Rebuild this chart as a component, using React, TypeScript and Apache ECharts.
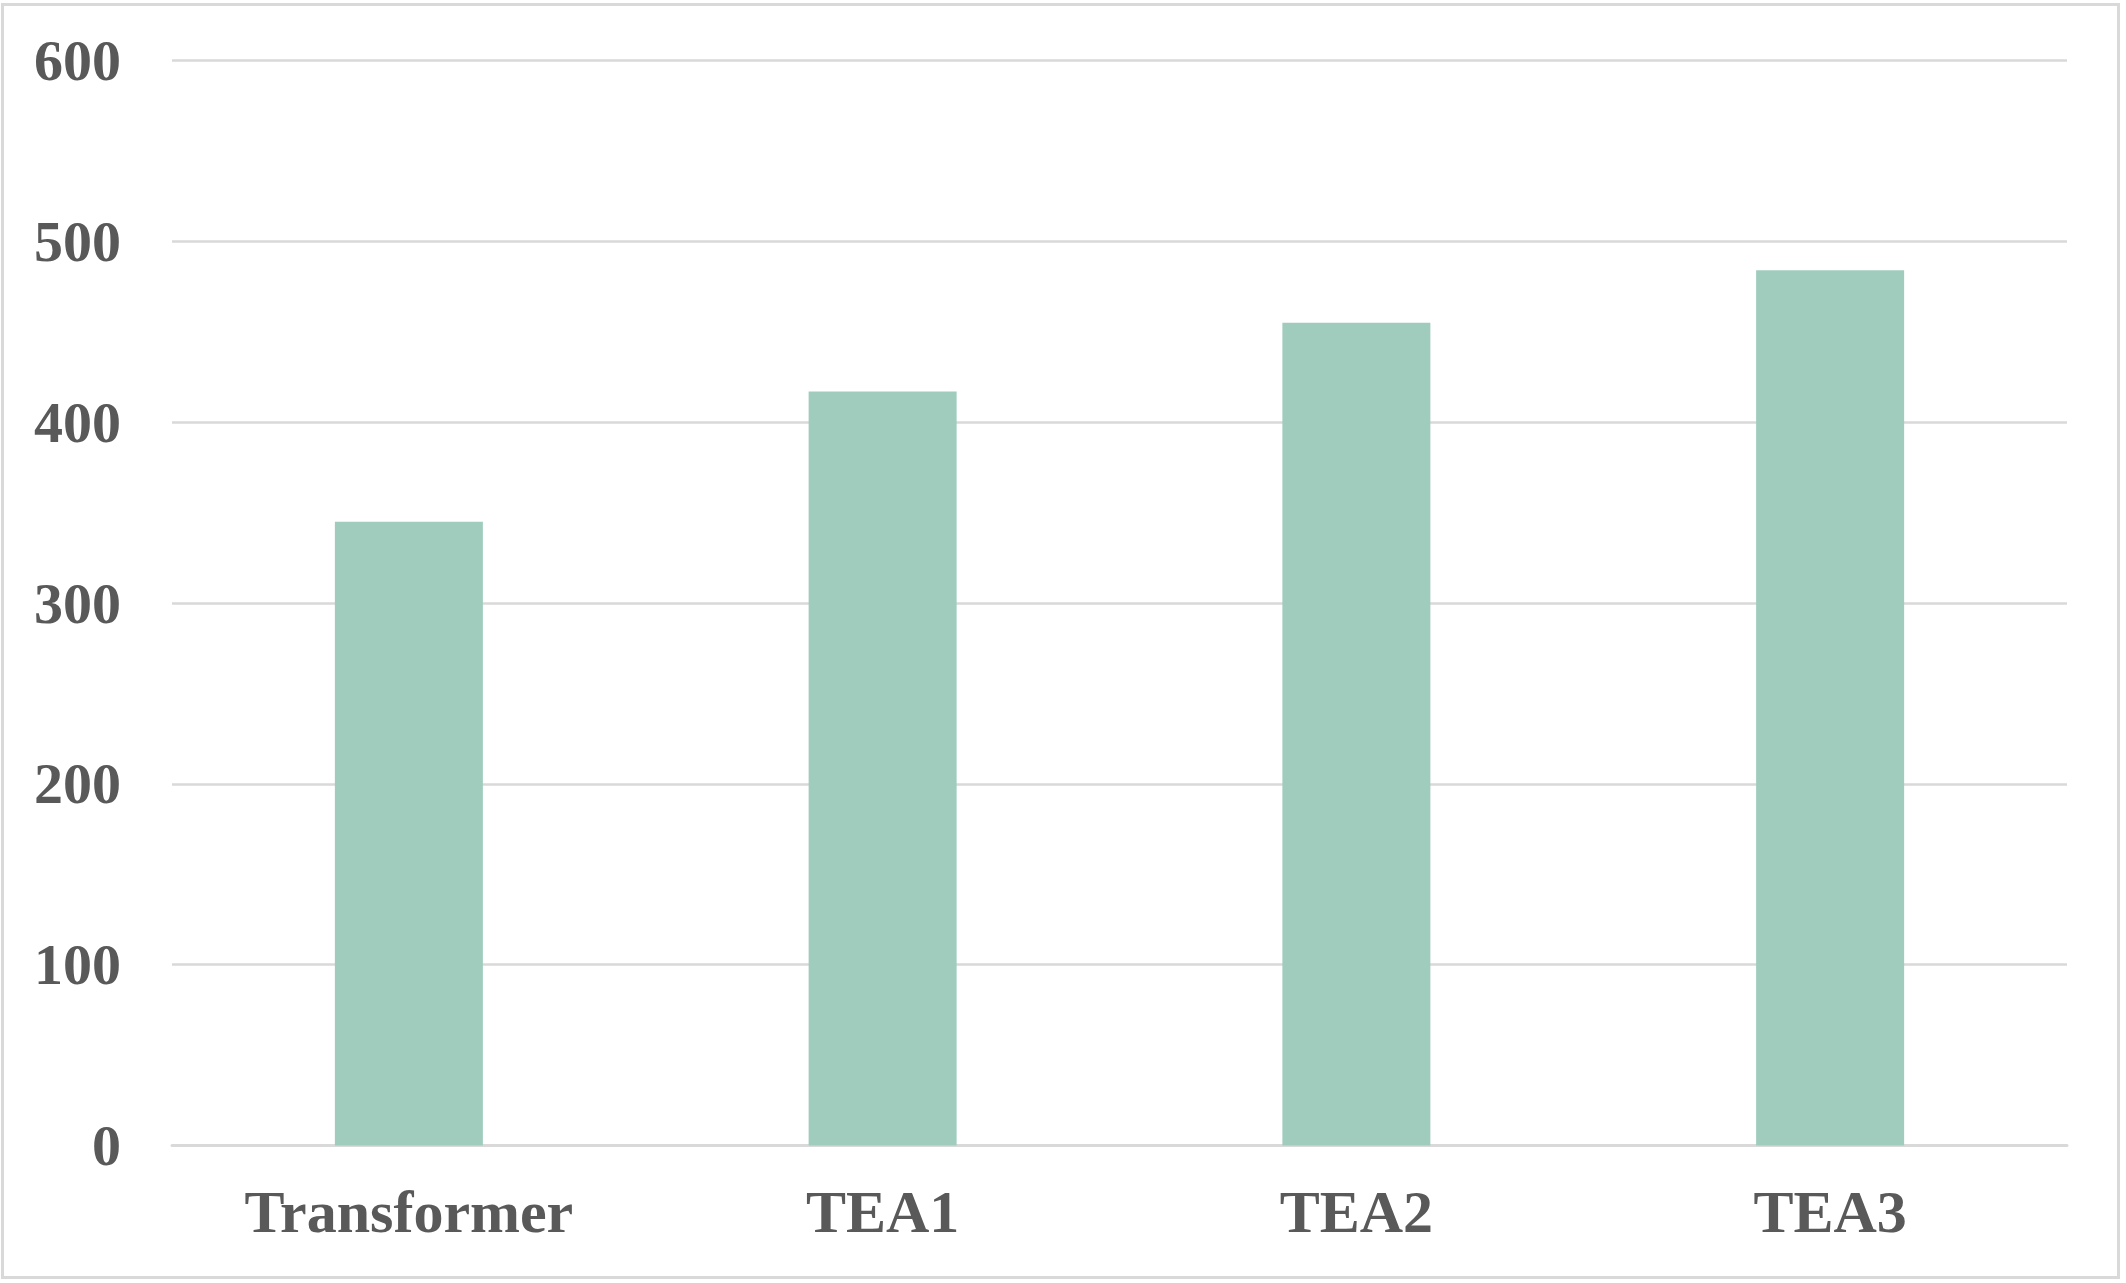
import React, { useEffect, useRef } from "react";
import * as echarts from "echarts";

const categories = ["Transformer", "TEA1", "TEA2", "TEA3"];
const values = [345, 417, 455, 484];
const yTicks = [0, 100, 200, 300, 400, 500, 600];

export default function App() {
  const ref = useRef<HTMLDivElement>(null);
  useEffect(() => {
    if (!ref.current) return;
    const chart = echarts.init(ref.current, undefined, { renderer: "svg" });
    const font = "'Liberation Serif', 'Times New Roman', serif";
    chart.setOption({
      animation: false,
      backgroundColor: "#ffffff",
      graphic: [
        {
          type: "rect",
          shape: { x: 2.5, y: 4.5, width: 2116, height: 1273 },
          style: { fill: "none", stroke: "#d9d9d9", lineWidth: 3 },
          silent: true,
        },
      ],
      grid: { left: 172, right: 59, top: 60.5, bottom: 137.5, containLabel: false },
      xAxis: {
        type: "category",
        data: categories,
        axisLine: { show: true, lineStyle: { color: "#d9d9d9", width: 3 } },
        axisTick: { show: false },
        axisLabel: {
          color: "#595959",
          fontFamily: font,
          fontWeight: "bold",
          fontSize: 60,
          margin: 36,
        },
      },
      yAxis: {
        type: "value",
        min: yTicks[0],
        max: yTicks[yTicks.length - 1],
        interval: 100,
        axisLine: { show: false },
        axisTick: { show: false },
        splitLine: { lineStyle: { color: "#d9d9d9", width: 2.5 } },
        axisLabel: {
          color: "#595959",
          fontFamily: font,
          fontWeight: "bold",
          fontSize: 58,
          margin: 51,
          padding: [0, 0, 4, 0],
        },
      },
      series: [
        {
          type: "bar",
          data: values,
          barWidth: 148,
          itemStyle: { color: "#a0ccbe" },
        },
      ],
    });
    return () => chart.dispose();
  }, []);
  return (
    <div
      ref={ref}
      style={{ position: "absolute", left: 0, top: 0, width: 2126, height: 1283 }}
    />
  );
}
